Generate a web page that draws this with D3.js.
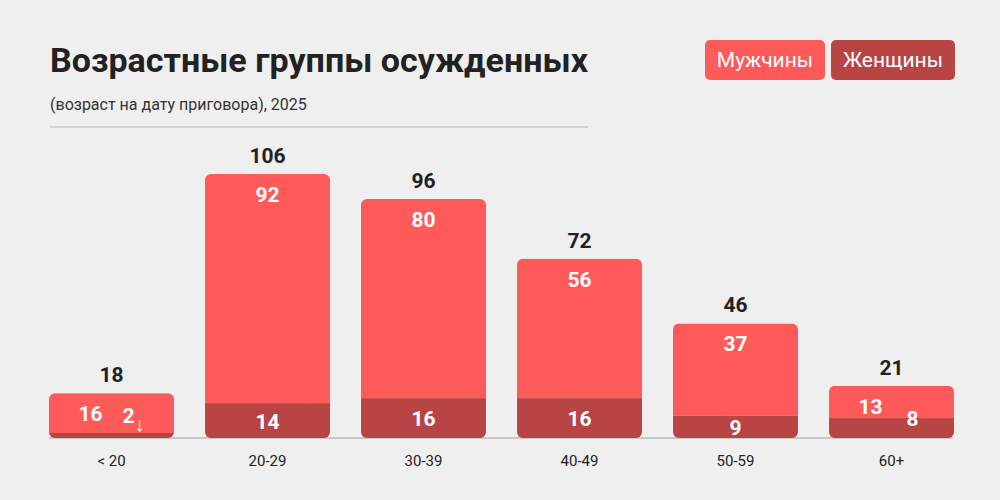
<!DOCTYPE html>
<html><head><meta charset="utf-8">
<script src="https://cdn.jsdelivr.net/npm/d3@7"></script>
<style>body{margin:0;background:#efefef;font-family:Roboto,"Noto Sans",sans-serif}</style>
</head><body>
<script>
var categories = ["< 20", "20-29", "30-39", "40-49", "50-59", "60+"];
var men = [16, 92, 80, 56, 37, 13];
var women = [2, 14, 16, 16, 9, 8];

var width = 1000, height = 500;
var cMen = "#ff5a5a", cWomen = "#b84444";

var svg = d3.select("body").append("svg")
    .attr("width", width).attr("height", height)
    .style("background", "#efefef");

svg.append("text").attr("x", 50).attr("y", 72)
    .attr("font-size", 34).attr("font-weight", 700).attr("fill", "#222")
    .attr("textLength", 538).attr("lengthAdjust", "spacingAndGlyphs")
    .text("Возрастные группы осужденных");
svg.append("text").attr("x", 50).attr("y", 110)
    .attr("font-size", 16).attr("fill", "#333")
    .text("(возраст на дату приговора), 2025");
svg.append("line").attr("x1", 50).attr("x2", 588).attr("y1", 127).attr("y2", 127)
    .attr("stroke", "#c8c8c8").attr("stroke-width", 1.5);

// legend
var legend = [["Мужчины", cMen, 705, 120], ["Женщины", cWomen, 831, 124]];
legend.forEach(function(l) {
    svg.append("rect").attr("x", l[2]).attr("y", 40).attr("width", l[3]).attr("height", 40)
        .attr("rx", 5).attr("fill", l[1]);
    svg.append("text").attr("x", l[2] + l[3] / 2).attr("y", 67).attr("text-anchor", "middle")
        .attr("font-size", 21).attr("fill", "#fff").text(l[0]);
});

var base = 438;
var x = d3.scaleBand().domain(categories).range([49, 954]).paddingInner(31 / 156).paddingOuter(0);
var y = d3.scaleLinear().domain([0, 106]).range([base, 174]);

svg.append("line").attr("x1", 49).attr("x2", 953).attr("y1", base).attr("y2", base)
    .attr("stroke", "#bbb").attr("stroke-width", 1.5);

var data = categories.map(function(c, i) { return {c: c, m: men[i], w: women[i], t: men[i] + women[i]}; });

var g = svg.selectAll("g.bar").data(data).enter().append("g").attr("class", "bar");
g.each(function(d) {
    var s = d3.select(this), bx = x(d.c), bw = x.bandwidth();
    var clipId = "clip" + categories.indexOf(d.c);
    s.append("clipPath").attr("id", clipId).append("rect")
        .attr("x", bx).attr("y", y(d.t)).attr("width", bw).attr("height", base - y(d.t)).attr("rx", 6);
    var cg = s.append("g").attr("clip-path", "url(#" + clipId + ")");
    cg.append("rect").attr("x", bx).attr("y", y(d.t)).attr("width", bw).attr("height", y(d.w) - y(d.t)).attr("fill", cMen);
    cg.append("rect").attr("x", bx).attr("y", y(d.w)).attr("width", bw).attr("height", base - y(d.w)).attr("fill", cWomen);

    var cx = bx + bw / 2;
    var small = (base - y(d.t)) < 70;
    s.append("text").attr("x", cx).attr("y", y(d.t) - 11).attr("text-anchor", "middle")
        .attr("font-size", 21).attr("font-weight", 700).attr("fill", "#222").text(d.t);
    var mx = small ? cx - 21 : cx, my = y(d.t) + 28;
    s.append("text").attr("x", mx).attr("y", my).attr("text-anchor", "middle")
        .attr("font-size", 21).attr("font-weight", 700).attr("fill", "#fff").text(d.m);
    var wh = base - y(d.w);
    var wx = small ? cx + 21 : cx;
    var wy = wh < 20 ? (wh < 10 ? my + 2 : my + 12) : (y(d.w) + base) / 2 + 8;
    s.append("text").attr("x", wx - (wh < 10 ? 4 : 0)).attr("y", wy).attr("text-anchor", "middle")
        .attr("font-size", 21).attr("font-weight", 700).attr("fill", "#fff").text(d.w);
    if (wh < 10) {
        s.append("text").attr("x", wx + 7).attr("y", wy + 8).attr("text-anchor", "middle")
            .attr("font-size", 20).attr("fill", "#fff").text("↓");
    }
    s.append("text").attr("x", cx).attr("y", 466).attr("text-anchor", "middle")
        .attr("font-size", 15).attr("fill", "#222").text(d.c);
});
</script>
</body></html>
